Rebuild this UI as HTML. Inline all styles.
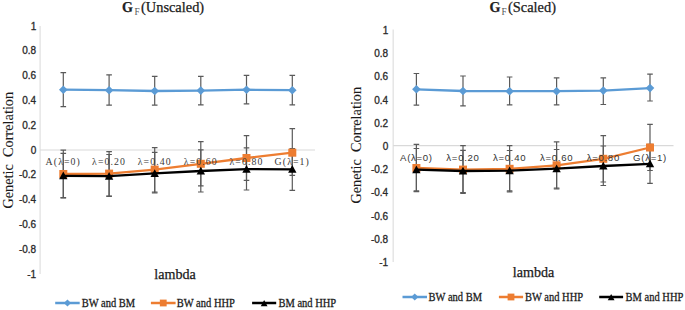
<!DOCTYPE html>
<html><head><meta charset="utf-8"><style>
html,body{margin:0;padding:0;background:#fff;}
body{width:685px;height:310px;overflow:hidden;}
svg{display:block;}
text{font-family:"Liberation Serif",serif;fill:#1a1a1a;}
.lam,.leg,.ttl,.ttlG{stroke:#1a1a1a;stroke-width:0.25px;}
.ytl{stroke:#1a1a1a;stroke-width:0.08px;}
.tick{font-family:"Liberation Sans",sans-serif;font-size:10px;text-anchor:end;fill:#2a2a2a;stroke:#2a2a2a;stroke-width:0.3px;}
.catS{font-family:"Liberation Serif",serif;font-size:9.8px;letter-spacing:1.1px;text-anchor:middle;fill:#3a3a3a;}
.catN{font-family:"Liberation Sans",sans-serif;font-size:9.6px;letter-spacing:0.7px;text-anchor:middle;fill:#333;}
.ttlG{font-size:14px;font-weight:bold;fill:#222;}
.ttlF{font-size:9.3px;fill:#555;}
.ttl{font-size:14.4px;fill:#222;}
.ytl{font-size:14.3px;text-anchor:middle;fill:#1a1a1a;}
.lam{font-size:14.1px;fill:#1a1a1a;}
.leg{font-size:10.5px;fill:#1a1a1a;}
</style></head><body>
<svg width="685" height="310" viewBox="0 0 685 310">
<rect width="685" height="310" fill="#fff"/>
<line x1="40.1" y1="26" x2="40.1" y2="274" stroke="#e4e4e4" stroke-width="1.4"/>
<line x1="40.1" y1="150" x2="315" y2="150" stroke="#d9d9d9" stroke-width="1.15"/>
<text x="36.2" y="29.60" class="tick">1</text>
<text x="36.2" y="54.40" class="tick">0.8</text>
<text x="36.2" y="79.20" class="tick">0.6</text>
<text x="36.2" y="104.00" class="tick">0.4</text>
<text x="36.2" y="128.80" class="tick">0.2</text>
<text x="36.2" y="153.60" class="tick">0</text>
<text x="36.2" y="178.40" class="tick">-0.2</text>
<text x="36.2" y="203.20" class="tick">-0.4</text>
<text x="36.2" y="228.00" class="tick">-0.6</text>
<text x="36.2" y="252.80" class="tick">-0.8</text>
<text x="36.2" y="277.60" class="tick">-1</text>
<path d="M63.30 72.60V106.70M60.50 72.60H66.10M60.50 106.70H66.10" stroke="#5a5a5a" stroke-width="1.2" fill="none"/>
<path d="M109.10 74.90V105.20M106.30 74.90H111.90M106.30 105.20H111.90" stroke="#5a5a5a" stroke-width="1.2" fill="none"/>
<path d="M154.70 76.40V105.20M151.90 76.40H157.50M151.90 105.20H157.50" stroke="#5a5a5a" stroke-width="1.2" fill="none"/>
<path d="M200.80 76.40V104.80M198.00 76.40H203.60M198.00 104.80H203.60" stroke="#5a5a5a" stroke-width="1.2" fill="none"/>
<path d="M246.50 75.40V103.90M243.70 75.40H249.30M243.70 103.90H249.30" stroke="#5a5a5a" stroke-width="1.2" fill="none"/>
<path d="M292.30 75.40V104.80M289.50 75.40H295.10M289.50 104.80H295.10" stroke="#5a5a5a" stroke-width="1.2" fill="none"/>
<path d="M63.30 150.20V197.60M60.50 150.20H66.10M60.50 197.60H66.10" stroke="#5a5a5a" stroke-width="1.2" fill="none"/>
<path d="M109.10 151.60V196.00M106.30 151.60H111.90M106.30 196.00H111.90" stroke="#5a5a5a" stroke-width="1.2" fill="none"/>
<path d="M154.70 147.60V192.00M151.90 147.60H157.50M151.90 192.00H157.50" stroke="#5a5a5a" stroke-width="1.2" fill="none"/>
<path d="M200.80 141.70V185.90M198.00 141.70H203.60M198.00 185.90H203.60" stroke="#5a5a5a" stroke-width="1.2" fill="none"/>
<path d="M246.50 135.60V180.40M243.70 135.60H249.30M243.70 180.40H249.30" stroke="#5a5a5a" stroke-width="1.2" fill="none"/>
<path d="M292.30 128.60V175.30M289.50 128.60H295.10M289.50 175.30H295.10" stroke="#5a5a5a" stroke-width="1.2" fill="none"/>
<path d="M63.30 153.30V197.80M60.50 153.30H66.10M60.50 197.80H66.10" stroke="#5a5a5a" stroke-width="1.2" fill="none"/>
<path d="M109.10 154.50V196.40M106.30 154.50H111.90M106.30 196.40H111.90" stroke="#5a5a5a" stroke-width="1.2" fill="none"/>
<path d="M154.70 152.40V192.80M151.90 152.40H157.50M151.90 192.80H157.50" stroke="#5a5a5a" stroke-width="1.2" fill="none"/>
<path d="M200.80 149.90V192.00M198.00 149.90H203.60M198.00 192.00H203.60" stroke="#5a5a5a" stroke-width="1.2" fill="none"/>
<path d="M246.50 147.80V190.00M243.70 147.80H249.30M243.70 190.00H249.30" stroke="#5a5a5a" stroke-width="1.2" fill="none"/>
<path d="M292.30 148.50V190.30M289.50 148.50H295.10M289.50 190.30H295.10" stroke="#5a5a5a" stroke-width="1.2" fill="none"/>
<polyline points="63.30,89.70 109.10,90.20 154.70,91.00 200.80,90.60 246.50,89.70 292.30,90.20" fill="none" stroke="#5B9BD5" stroke-width="2.3" stroke-linejoin="round"/>
<path d="M59.00 89.70L63.30 85.40L67.60 89.70L63.30 94.00Z" fill="#5B9BD5"/>
<path d="M104.80 90.20L109.10 85.90L113.40 90.20L109.10 94.50Z" fill="#5B9BD5"/>
<path d="M150.40 91.00L154.70 86.70L159.00 91.00L154.70 95.30Z" fill="#5B9BD5"/>
<path d="M196.50 90.60L200.80 86.30L205.10 90.60L200.80 94.90Z" fill="#5B9BD5"/>
<path d="M242.20 89.70L246.50 85.40L250.80 89.70L246.50 94.00Z" fill="#5B9BD5"/>
<path d="M288.00 90.20L292.30 85.90L296.60 90.20L292.30 94.50Z" fill="#5B9BD5"/>
<polyline points="63.30,174.00 109.10,173.60 154.70,169.60 200.80,163.80 246.50,158.00 292.30,152.70" fill="none" stroke="#ED7D31" stroke-width="2.3" stroke-linejoin="round"/>
<rect x="59.30" y="170.00" width="8.00" height="8.00" fill="#ED7D31"/>
<rect x="105.10" y="169.60" width="8.00" height="8.00" fill="#ED7D31"/>
<rect x="150.70" y="165.60" width="8.00" height="8.00" fill="#ED7D31"/>
<rect x="196.80" y="159.80" width="8.00" height="8.00" fill="#ED7D31"/>
<rect x="242.50" y="154.00" width="8.00" height="8.00" fill="#ED7D31"/>
<rect x="288.30" y="148.70" width="8.00" height="8.00" fill="#ED7D31"/>
<polyline points="63.30,175.80 109.10,176.20 154.70,173.40 200.80,171.00 246.50,169.20 292.30,169.30" fill="none" stroke="#000000" stroke-width="2.3" stroke-linejoin="round"/>
<path d="M63.30 171.60L67.50 179.37L59.10 179.37Z" fill="#000000"/>
<path d="M109.10 172.00L113.30 179.77L104.90 179.77Z" fill="#000000"/>
<path d="M154.70 169.20L158.90 176.97L150.50 176.97Z" fill="#000000"/>
<path d="M200.80 166.80L205.00 174.57L196.60 174.57Z" fill="#000000"/>
<path d="M246.50 165.00L250.70 172.77L242.30 172.77Z" fill="#000000"/>
<path d="M292.30 165.10L296.50 172.87L288.10 172.87Z" fill="#000000"/>
<text x="63.30" y="165.3" class="catS">A(λ=0)</text>
<text x="109.10" y="165.3" class="catS">λ=0.20</text>
<text x="154.70" y="165.3" class="catS">λ=0.40</text>
<text x="200.80" y="165.3" class="catS">λ=0.60</text>
<text x="246.50" y="165.3" class="catS">λ=0.80</text>
<text x="292.30" y="165.3" class="catS">G(λ=1)</text>
<text x="122" y="11.8" class="ttlG">G</text>
<text x="134.5" y="14.8" class="ttlF">F</text>
<text x="141" y="11.8" class="ttl">(Unscaled)</text>
<text transform="translate(13,150.2) rotate(-90)" class="ytl">Genetic  Correlation</text>
<text x="154.3" y="279.0" class="lam">lambda</text>
<line x1="55.2" y1="303" x2="79.7" y2="303" stroke="#5B9BD5" stroke-width="2.5"/>
<path d="M63.85 303.00L67.45 299.40L71.05 303.00L67.45 306.60Z" fill="#5B9BD5"/>
<text transform="translate(81.7,306.8) scale(1,1.09)" class="leg">BW and BM</text>
<line x1="150.9" y1="303" x2="175.6" y2="303" stroke="#ED7D31" stroke-width="2.5"/>
<rect x="159.85" y="299.60" width="6.80" height="6.80" fill="#ED7D31"/>
<text transform="translate(176.8,306.8) scale(1,1.09)" class="leg">BW and HHP</text>
<line x1="252.1" y1="303" x2="276.2" y2="303" stroke="#000000" stroke-width="2.5"/>
<path d="M264.15 299.90L267.55 306.19L260.75 306.19Z" fill="#000000"/>
<text transform="translate(278.5,306.8) scale(1,1.09)" class="leg">BM and HHP</text>
<line x1="393.2" y1="29.6" x2="393.2" y2="262" stroke="#e4e4e4" stroke-width="1.4"/>
<line x1="393.2" y1="145.6" x2="673.5" y2="145.6" stroke="#d9d9d9" stroke-width="1.15"/>
<text x="388.2" y="33.80" class="tick">1</text>
<text x="388.2" y="57.04" class="tick">0.8</text>
<text x="388.2" y="80.28" class="tick">0.6</text>
<text x="388.2" y="103.52" class="tick">0.4</text>
<text x="388.2" y="126.76" class="tick">0.2</text>
<text x="388.2" y="150.00" class="tick">0</text>
<text x="388.2" y="173.24" class="tick">-0.2</text>
<text x="388.2" y="196.48" class="tick">-0.4</text>
<text x="388.2" y="219.72" class="tick">-0.6</text>
<text x="388.2" y="242.96" class="tick">-0.8</text>
<text x="388.2" y="266.20" class="tick">-1</text>
<path d="M416.40 73.50V105.20M413.60 73.50H419.20M413.60 105.20H419.20" stroke="#5a5a5a" stroke-width="1.2" fill="none"/>
<path d="M463.00 76.00V105.80M460.20 76.00H465.80M460.20 105.80H465.80" stroke="#5a5a5a" stroke-width="1.2" fill="none"/>
<path d="M509.60 77.00V104.80M506.80 77.00H512.40M506.80 104.80H512.40" stroke="#5a5a5a" stroke-width="1.2" fill="none"/>
<path d="M556.60 77.90V104.80M553.80 77.90H559.40M553.80 104.80H559.40" stroke="#5a5a5a" stroke-width="1.2" fill="none"/>
<path d="M603.30 77.90V104.50M600.50 77.90H606.10M600.50 104.50H606.10" stroke="#5a5a5a" stroke-width="1.2" fill="none"/>
<path d="M650.00 74.10V101.00M647.20 74.10H652.80M647.20 101.00H652.80" stroke="#5a5a5a" stroke-width="1.2" fill="none"/>
<path d="M416.40 144.30V191.70M413.60 144.30H419.20M413.60 191.70H419.20" stroke="#5a5a5a" stroke-width="1.2" fill="none"/>
<path d="M463.00 145.60V193.40M460.20 145.60H465.80M460.20 193.40H465.80" stroke="#5a5a5a" stroke-width="1.2" fill="none"/>
<path d="M509.60 145.60V191.80M506.80 145.60H512.40M506.80 191.80H512.40" stroke="#5a5a5a" stroke-width="1.2" fill="none"/>
<path d="M556.60 141.80V188.80M553.80 141.80H559.40M553.80 188.80H559.40" stroke="#5a5a5a" stroke-width="1.2" fill="none"/>
<path d="M603.30 135.60V182.00M600.50 135.60H606.10M600.50 182.00H606.10" stroke="#5a5a5a" stroke-width="1.2" fill="none"/>
<path d="M650.00 124.30V170.50M647.20 124.30H652.80M647.20 170.50H652.80" stroke="#5a5a5a" stroke-width="1.2" fill="none"/>
<path d="M416.40 148.50V190.80M413.60 148.50H419.20M413.60 190.80H419.20" stroke="#5a5a5a" stroke-width="1.2" fill="none"/>
<path d="M463.00 150.40V192.50M460.20 150.40H465.80M460.20 192.50H465.80" stroke="#5a5a5a" stroke-width="1.2" fill="none"/>
<path d="M509.60 150.50V190.80M506.80 150.50H512.40M506.80 190.80H512.40" stroke="#5a5a5a" stroke-width="1.2" fill="none"/>
<path d="M556.60 149.50V188.00M553.80 149.50H559.40M553.80 188.00H559.40" stroke="#5a5a5a" stroke-width="1.2" fill="none"/>
<path d="M603.30 146.00V185.50M600.50 146.00H606.10M600.50 185.50H606.10" stroke="#5a5a5a" stroke-width="1.2" fill="none"/>
<path d="M650.00 144.30V183.30M647.20 144.30H652.80M647.20 183.30H652.80" stroke="#5a5a5a" stroke-width="1.2" fill="none"/>
<polyline points="416.40,89.30 463.00,91.00 509.60,91.20 556.60,91.20 603.30,90.60 650.00,88.10" fill="none" stroke="#5B9BD5" stroke-width="2.3" stroke-linejoin="round"/>
<path d="M412.10 89.30L416.40 85.00L420.70 89.30L416.40 93.60Z" fill="#5B9BD5"/>
<path d="M458.70 91.00L463.00 86.70L467.30 91.00L463.00 95.30Z" fill="#5B9BD5"/>
<path d="M505.30 91.20L509.60 86.90L513.90 91.20L509.60 95.50Z" fill="#5B9BD5"/>
<path d="M552.30 91.20L556.60 86.90L560.90 91.20L556.60 95.50Z" fill="#5B9BD5"/>
<path d="M599.00 90.60L603.30 86.30L607.60 90.60L603.30 94.90Z" fill="#5B9BD5"/>
<path d="M645.70 88.10L650.00 83.80L654.30 88.10L650.00 92.40Z" fill="#5B9BD5"/>
<polyline points="416.40,168.00 463.00,169.60 509.60,168.80 556.60,165.30 603.30,158.80 650.00,147.50" fill="none" stroke="#ED7D31" stroke-width="2.3" stroke-linejoin="round"/>
<rect x="412.40" y="164.00" width="8.00" height="8.00" fill="#ED7D31"/>
<rect x="459.00" y="165.60" width="8.00" height="8.00" fill="#ED7D31"/>
<rect x="505.60" y="164.80" width="8.00" height="8.00" fill="#ED7D31"/>
<rect x="552.60" y="161.30" width="8.00" height="8.00" fill="#ED7D31"/>
<rect x="599.30" y="154.80" width="8.00" height="8.00" fill="#ED7D31"/>
<rect x="646.00" y="143.50" width="8.00" height="8.00" fill="#ED7D31"/>
<polyline points="416.40,169.60 463.00,171.00 509.60,170.60 556.60,168.60 603.30,166.00 650.00,163.80" fill="none" stroke="#000000" stroke-width="2.3" stroke-linejoin="round"/>
<path d="M416.40 165.40L420.60 173.17L412.20 173.17Z" fill="#000000"/>
<path d="M463.00 166.80L467.20 174.57L458.80 174.57Z" fill="#000000"/>
<path d="M509.60 166.40L513.80 174.17L505.40 174.17Z" fill="#000000"/>
<path d="M556.60 164.40L560.80 172.17L552.40 172.17Z" fill="#000000"/>
<path d="M603.30 161.80L607.50 169.57L599.10 169.57Z" fill="#000000"/>
<path d="M650.00 159.60L654.20 167.37L645.80 167.37Z" fill="#000000"/>
<text x="416.40" y="161.0" class="catN">A(λ=0)</text>
<text x="463.00" y="161.0" class="catN">λ=0.20</text>
<text x="509.60" y="161.0" class="catN">λ=0.40</text>
<text x="556.60" y="161.0" class="catN">λ=0.60</text>
<text x="603.30" y="161.0" class="catN">λ=0.80</text>
<text x="650.00" y="161.0" class="catN">G(λ=1)</text>
<text x="489.5" y="11.8" class="ttlG">G</text>
<text x="501.5" y="14.8" class="ttlF">F</text>
<text x="508" y="11.8" class="ttl">(Scaled)</text>
<text transform="translate(361.3,145.2) rotate(-90)" class="ytl">Genetic  Correlation</text>
<text x="512.8" y="277.2" class="lam">lambda</text>
<line x1="402.5" y1="297" x2="427.0" y2="297" stroke="#5B9BD5" stroke-width="2.5"/>
<path d="M411.15 297.00L414.75 293.40L418.35 297.00L414.75 300.60Z" fill="#5B9BD5"/>
<text transform="translate(428.6,300.8) scale(1,1.09)" class="leg">BW and BM</text>
<line x1="498.9" y1="297" x2="523.1" y2="297" stroke="#ED7D31" stroke-width="2.5"/>
<rect x="507.60" y="293.60" width="6.80" height="6.80" fill="#ED7D31"/>
<text transform="translate(525.0,300.8) scale(1,1.09)" class="leg">BW and HHP</text>
<line x1="599.2" y1="297" x2="623.1" y2="297" stroke="#000000" stroke-width="2.5"/>
<path d="M611.15 293.90L614.55 300.19L607.75 300.19Z" fill="#000000"/>
<text transform="translate(625.6,300.8) scale(1,1.09)" class="leg">BM and HHP</text>
</svg>
</body></html>
